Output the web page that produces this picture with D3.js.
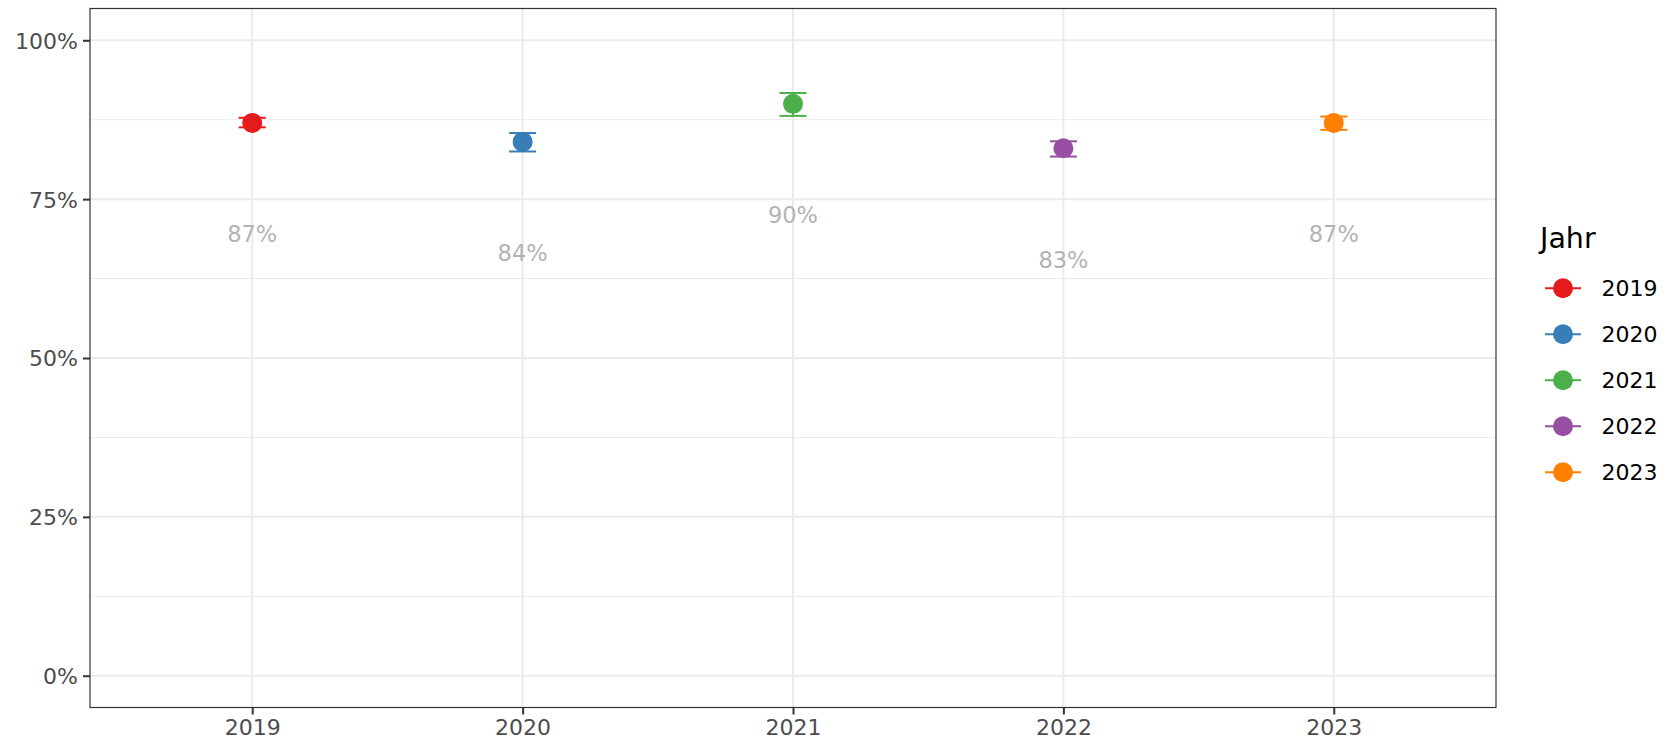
<!DOCTYPE html>
<html><head><meta charset="utf-8">
<script src="https://cdn.jsdelivr.net/npm/d3@7"></script>
<style>body{margin:0;background:#fff;} svg{display:block;font-family:"DejaVu Sans",sans-serif;}</style>
</head><body>
<svg id="chart" width="1678" height="744"></svg>
<script>
const years = ["2019","2020","2021","2022","2023"];
const values = [87, 84, 90, 83, 87];
const lower = [86.3, 82.5, 88.1, 81.7, 85.9];
const upper = [87.8, 85.4, 91.7, 84.1, 88.0];
const colors = ["#E41A1C","#377EB8","#4DAF4A","#984EA3","#FF7F00"];
const yTicks = [0, 25, 50, 75, 100];
const yMinor = [12.5, 37.5, 62.5, 87.5];
const labelOffset = 17.5;
const legendTitle = "Jahr";

const svg = d3.select("#chart");
const P = {l: 90, r: 1496, t: 8.5, b: 707.5};

const x = d3.scalePoint().domain(years).range([P.l, P.r]).padding(0.6);
const step = x.step();
const y = d3.scaleLinear().domain([-5, 105]).range([P.b, P.t]);

const g = svg.append("g");
g.selectAll(".ymin").data(yMinor).join("line")
  .attr("x1", P.l).attr("x2", P.r).attr("y1", d=>y(d)).attr("y2", d=>y(d))
  .attr("stroke", "#ebebeb").attr("stroke-width", 1);
g.selectAll(".ymaj").data(yTicks).join("line")
  .attr("x1", P.l).attr("x2", P.r).attr("y1", d=>y(d)).attr("y2", d=>y(d))
  .attr("stroke", "#ebebeb").attr("stroke-width", 2);
g.selectAll(".xmaj").data(years).join("line")
  .attr("x1", d=>x(d)).attr("x2", d=>x(d)).attr("y1", P.t).attr("y2", P.b)
  .attr("stroke", "#ebebeb").attr("stroke-width", 2);

const yAxis = d3.axisLeft(y).tickValues(yTicks).tickFormat(d=>d+"%").tickSize(7).tickPadding(5);
const ya = svg.append("g").attr("transform", `translate(${P.l},0)`).call(yAxis);
const xAxis = d3.axisBottom(x).tickSize(7).tickPadding(5);
const xa = svg.append("g").attr("transform", `translate(0,${P.b})`).call(xAxis);
[ya, xa].forEach(a => {
  a.select(".domain").remove();
  a.selectAll(".tick line").attr("stroke", "#333333").attr("stroke-width", 2);
  a.selectAll(".tick text").attr("fill", "#4d4d4d").style("font-size", "22px").style("font-family", "DejaVu Sans");
});
ya.selectAll(".tick text").attr("dy", "0.36em");
xa.selectAll(".tick text").attr("dy", "0.72em");

const data = years.map((yr, i) => ({yr, v: values[i], lo: lower[i], hi: upper[i], c: colors[i]}));

const eb = svg.append("g");
const cw = step * 0.1 / 2;
data.forEach(d => {
  eb.append("line").attr("x1", x(d.yr)).attr("x2", x(d.yr)).attr("y1", y(d.lo)).attr("y2", y(d.hi))
    .attr("stroke", d.c).attr("stroke-width", 2);
  [d.lo, d.hi].forEach(v => eb.append("line").attr("x1", x(d.yr)-cw).attr("x2", x(d.yr)+cw)
    .attr("y1", y(v)).attr("y2", y(v)).attr("stroke", d.c).attr("stroke-width", 2));
});
svg.append("g").selectAll("circle").data(data).join("circle")
  .attr("cx", d=>x(d.yr)).attr("cy", d=>y(d.v)).attr("r", 10).attr("fill", d=>d.c);
svg.append("g").selectAll("text").data(data).join("text")
  .attr("x", d=>x(d.yr)).attr("y", d=>y(d.v - labelOffset)).attr("dy", "0.36em")
  .attr("text-anchor", "middle").attr("fill", "#b3b3b3").style("font-size", "22.5px")
  .text(d => d.v + "%");

svg.append("rect").attr("x", P.l).attr("y", P.t).attr("width", P.r-P.l).attr("height", P.b-P.t)
  .attr("fill", "none").attr("stroke", "#333333").attr("stroke-width", 1.2);

const lg = svg.append("g");
lg.append("text").attr("x", 1540).attr("y", 238).attr("dy", "0.36em").style("font-size", "28.5px")
  .attr("fill", "#000").text(legendTitle);
const ly = d3.scalePoint().domain(years).range([288.3, 472.3]);
data.forEach(d => {
  const yy = ly(d.yr);
  lg.append("line").attr("x1", 1545).attr("x2", 1581).attr("y1", yy).attr("y2", yy)
    .attr("stroke", d.c).attr("stroke-width", 2);
  lg.append("circle").attr("cx", 1563).attr("cy", yy).attr("r", 10).attr("fill", d.c);
  lg.append("text").attr("x", 1601.5).attr("y", yy).attr("dy", "0.36em").style("font-size", "22px")
    .attr("fill", "#000").text(d.yr);
});
</script>
</body></html>
